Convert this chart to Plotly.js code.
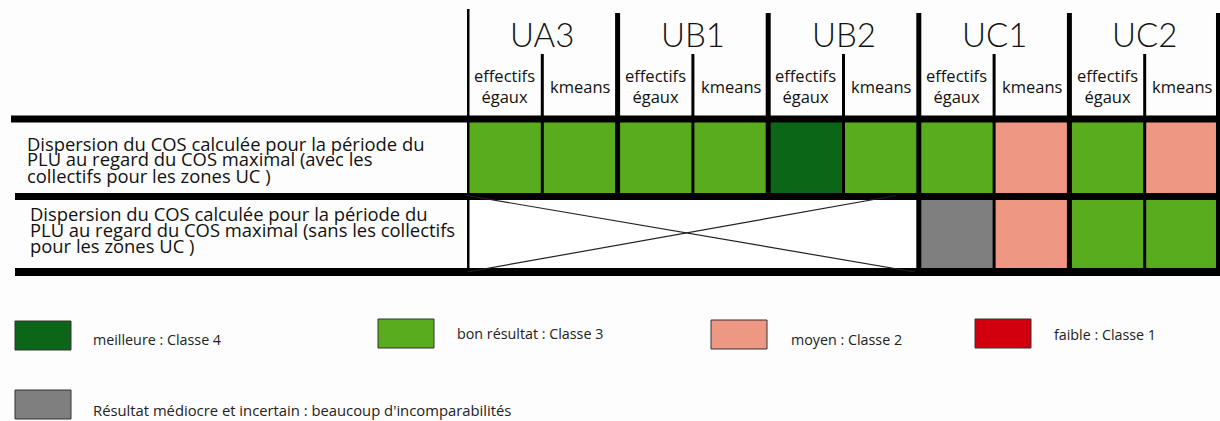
<!DOCTYPE html>
<html>
<head>
<meta charset="utf-8">
<script src="https://cdn.plot.ly/plotly-3.0.1.min.js"></script>
<style>html,body{margin:0;padding:0;background:#fdfdfd;}#chart{width:1220px;height:421px;}</style>
</head>
<body>
<div id="chart"></div>
<script>
// ---- data ----
const zones = ['UA3', 'UB1', 'UB2', 'UC1', 'UC2'];
const methods = ['effectifs<br>égaux', 'kmeans'];
const rowLabels = [
  ['Dispersion du COS calculée pour la période du', 'PLU au regard du COS maximal (avec les', 'collectifs pour les zones UC )'],
  ['Dispersion du COS calculée pour la période du', 'PLU au regard du COS maximal (sans les collectifs', 'pour les zones UC )']
];
// class per cell: 4 meilleure, 3 bon, 2 moyen, 1 faible, 0 médiocre/incertain, null = non calculé (croix)
const rowAvec = [3, 3, 3, 3, 4, 3, 3, 2, 3, 2];
const rowSans = [null, null, null, null, null, null, 0, 2, 3, 3];
const classValues = [4, 3, 2, 1, 0];
const classColors = ['#0b6617', '#5aac1f', '#ee9782', '#d1000e', '#7f7f7f'];
const classLabels = ['meilleure : Classe 4', 'bon résultat : Classe 3', 'moyen : Classe 2', 'faible : Classe 1',
  "Résultat médiocre et incertain : beaucoup d'incomparabilités"];

// ---- build ----
const W = 1220, H = 421;
const py = y => 1 - y / H;
const px = x => x / W;
const cols = [];
zones.forEach(z => methods.forEach(m => cols.push(z + ' ' + m)));
const nCols = cols.length;
const xIdx = cols.map((_, i) => i);

// discrete colorscale 0..4
const colorOf = v => classColors[classValues.indexOf(v)];
const cs = [];
[0, 1, 2, 3, 4].forEach(v => {
  cs.push([v === 0 ? 0 : (v - 0.5) / 4, colorOf(v)]);
  cs.push([v === 4 ? 1 : (v + 0.5) / 4, colorOf(v)]);
});

const heat = {
  type: 'heatmap',
  x: xIdx, y: [0, 1],
  z: [rowAvec, rowSans],
  zmin: 0, zmax: 4,
  colorscale: cs,
  showscale: false,
  hoverinfo: 'skip',
  xaxis: 'x', yaxis: 'y'
};

const shapes = [];
const rowTop = 119, rowMid = 196.5, rowBot = 272;
// horizontal thick lines
[[rowTop, 11, 7], [rowMid, 15, 7], [rowBot, 15, 8]].forEach(([y, x0, w]) => {
  shapes.push({type: 'line', xref: 'paper', yref: 'paper', x0: px(x0), x1: 1, y0: py(y), y1: py(y),
    line: {color: '#000', width: w}, layer: 'above'});
});
// vertical lines
const crossed = rowSans.map(v => v === null);
for (let k = 0; k <= nCols; k++) {
  const xe = k - 0.5;
  const isGroup = k % 2 === 0;
  const topPx = k === 0 ? 9 : (isGroup ? 13 : 54);
  const leftCrossed = k > 0 && crossed[k - 1];
  const rightCrossed = k < nCols && crossed[k];
  const bottomPx = (leftCrossed && rightCrossed) ? rowMid : rowBot;
  const xLine = k === nCols ? 9.5 - 0.02 : xe;
  shapes.push({type: 'line', xref: 'x', yref: 'paper', x0: xLine, x1: xLine, y0: py(topPx), y1: py(bottomPx),
    line: {color: '#000', width: isGroup ? 5 : 3}, layer: 'above'});
}
// cross over non-computed cells
const firstC = crossed.indexOf(true), lastC = crossed.lastIndexOf(true);
if (firstC >= 0) {
  shapes.push({type: 'line', xref: 'x', yref: 'y', x0: firstC - 0.5, x1: lastC + 0.45, y0: 0.5, y1: 1.5,
    line: {color: '#222', width: 1.2}, layer: 'above'});
  shapes.push({type: 'line', xref: 'x', yref: 'y', x0: firstC - 0.5, x1: lastC + 0.2, y0: 1.5, y1: 0.5,
    line: {color: '#222', width: 1.2}, layer: 'above'});
}

const TFONT = 'Lato, "Open Sans", sans-serif';
const FONT = '"Open Sans", Lato, sans-serif';
const annotations = [];
// zone titles
zones.forEach((z, g) => {
  annotations.push({xref: 'x', yref: 'paper', x: 2 * g + 0.5, y: py(34), text: z, showarrow: false,
    font: {family: TFONT, size: 33, color: '#111', weight: 300}, xanchor: 'center', yanchor: 'middle'});
});
// method subtitles
cols.forEach((c, i) => {
  const m = methods[i % 2];
  annotations.push({xref: 'x', yref: 'paper', x: i, y: py(86), text: m, showarrow: false,
    font: {family: FONT, size: 16.5, color: '#111'}, xanchor: 'center', yanchor: 'middle'});
});
// row labels
const rowLineY = [[143, 159, 175], [213, 229, 245]];
const rowLineX = [25, 28];
rowLabels.forEach((lines, r) => {
  lines.forEach((t, j) => {
    annotations.push({xref: 'paper', yref: 'paper', x: px(rowLineX[r]), y: py(rowLineY[r][j]), text: t,
      showarrow: false, xanchor: 'left', yanchor: 'middle', font: {family: FONT, size: 18.4, color: '#111'}});
  });
});
// legend
const legBoxes = [[15, 321], [378, 319], [711, 320], [975, 319], [15, 390]];
const legText = [[91, 339], [455, 333], [789, 339], [1052, 334], [91, 410]];
const legSize = [14.3, 14.3, 14.3, 14.3, 14.8];
classLabels.forEach((lab, i) => {
  const [bx, by] = legBoxes[i];
  shapes.push({type: 'rect', xref: 'paper', yref: 'paper', x0: px(bx), x1: px(bx + 56), y0: py(by), y1: py(by + 29),
    fillcolor: classColors[i], line: {color: '#333', width: 1}});
  annotations.push({xref: 'paper', yref: 'paper', x: px(legText[i][0]), y: py(legText[i][1]), text: lab,
    showarrow: false, xanchor: 'left', yanchor: 'middle', font: {family: FONT, size: legSize[i], color: '#222'}});
});

const layout = {
  width: W, height: H,
  margin: {l: 0, r: 0, t: 0, b: 0},
  paper_bgcolor: '#fdfdfd', plot_bgcolor: '#ffffff',
  showlegend: false,
  xaxis: {domain: [px(467), 1], range: [-0.5, nCols - 0.5], visible: false, fixedrange: true},
  yaxis: {domain: [py(rowBot), py(rowTop)], range: [1.5, -0.5], visible: false, fixedrange: true},
  shapes: shapes,
  annotations: annotations
};

Plotly.newPlot('chart', [heat], layout, {staticPlot: true, displayModeBar: false});
</script>
</body>
</html>
